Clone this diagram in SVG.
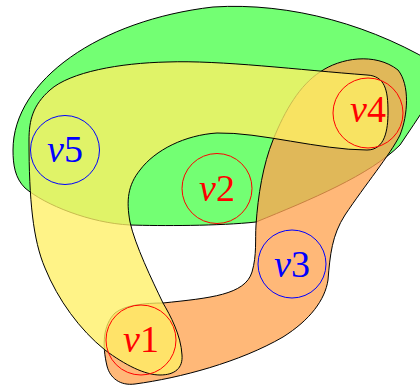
<svg xmlns="http://www.w3.org/2000/svg" width="420" height="386" viewBox="0 0 420 386">
<style>
.edge{stroke:#000;stroke-width:1;stroke-linejoin:round}
.green{fill:#73ff73}
.orange{fill:#ffa452;fill-opacity:0.78}
.yellow{fill:#fff065;fill-opacity:0.78}
.node{fill:none;stroke-width:1}
.red{stroke:#ff0000}
.blue{stroke:#0000ff}
.lbl{font-family:"Liberation Serif","DejaVu Serif",serif;font-size:38px;text-anchor:middle}
.it{font-style:italic}
</style>
<rect width="420" height="386" fill="#fff"/>
<g id="hyperedges">
<path id="e-green" class="edge green" d="M 13,150 C 13,80 100,20 213,7 C 290,2 375,25 445,70 C 438,90 418,118 400,145 C 370,175 310,200 256,222 C 220,226 160,226 130,225 C 90,223 45,205 25,188 C 15,178 13,165 13,150 Z"/>
<path id="e-orange" class="edge orange" d="M 163,303 C 210,298 245,295 252,272 C 257,255 255,240 256,225 C 258,195 263,165 273,140 C 285,110 300,85 320,72 C 340,58 375,52 398,70 C 410,85 408,115 400,135 C 390,155 365,185 345,215 C 332,235 330,255 328,280 C 325,300 310,320 283,337 C 240,362 180,378 135,384 C 120,386 110,378 107,366 C 102,345 103,325 115,313 C 125,305 145,303 163,303 Z"/>
<path id="e-yellow" class="edge yellow" d="M 367,75 C 300,70 220,60 167,62 C 120,63 70,72 50,90 C 33,105 29,120 29,140 C 29,200 33,240 45,268 C 58,300 80,330 105,350 C 125,365 145,375 160,375 C 175,375 183,368 182,355 C 181,335 170,315 163,303 C 152,280 135,245 130,222 C 126,200 128,185 140,170 C 155,150 185,135 217,133 C 260,132 320,150 367,150 C 385,150 388,130 388,112 C 388,90 385,76 367,75 Z"/>
</g>
<g id="v1"><circle class="node red" cx="141" cy="340" r="35"/><text class="lbl" x="141" y="352" fill="#ff0000"><tspan class="it">v</tspan>1</text></g>
<g id="v2"><circle class="node red" cx="217" cy="188.5" r="35"/><text class="lbl" x="217" y="201" fill="#ff0000"><tspan class="it">v</tspan>2</text></g>
<g id="v3"><circle class="node blue" cx="292" cy="264" r="34"/><text class="lbl" x="292" y="277" fill="#0000ff"><tspan class="it">v</tspan>3</text></g>
<g id="v4"><circle class="node red" cx="368" cy="113" r="35"/><text class="lbl" x="368" y="122" fill="#ff0000"><tspan class="it">v</tspan>4</text></g>
<g id="v5"><circle class="node blue" cx="65" cy="150" r="34.5"/><text class="lbl" x="65" y="162" fill="#0000ff"><tspan class="it">v</tspan>5</text></g>
</svg>
